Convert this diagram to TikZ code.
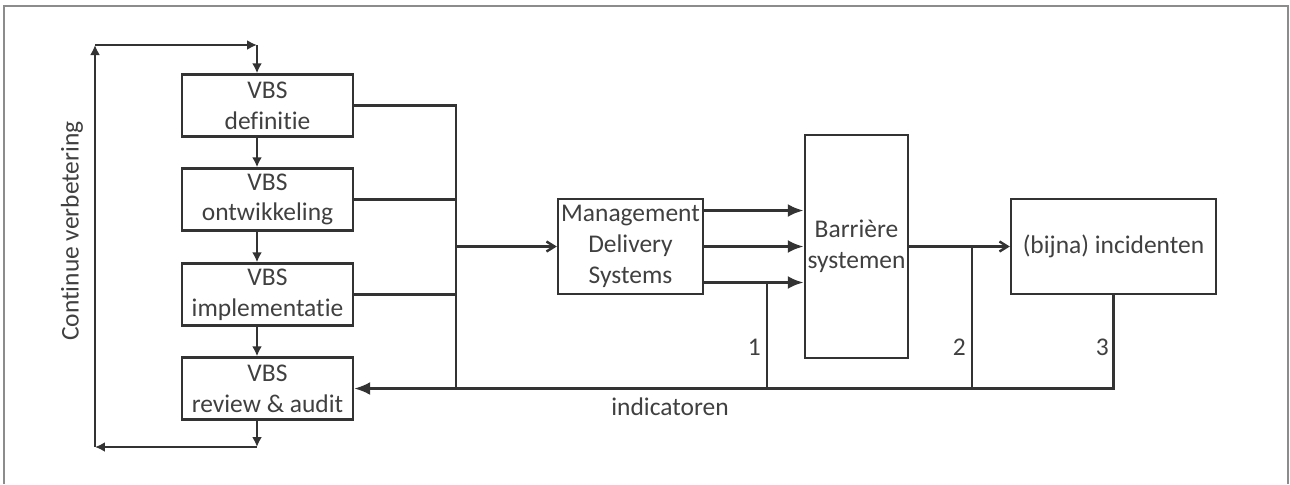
\documentclass[tikz,border=0pt]{standalone}
\usepackage{fontspec}
\setmainfont[Ligatures=NoCommon]{Carlito}
\usetikzlibrary{arrows.meta}
\begin{document}
\begin{tikzpicture}[x=0.02cm,y=-0.02cm,
  every node/.style={text=black!75,font=\fontsize{14.5}{17.5}\selectfont},
  box/.style={draw=black!80,line width=1.4pt,align=center,inner sep=0pt},
  vbs/.style={box,minimum width=3.42cm,minimum height=1.24cm},
  line/.style={draw=black!80,line width=1.4pt},
  tip/.style={line,-{Latex[length=0.2cm,width=0.2cm]}},
  bigtip/.style={line,-{Latex[length=0.32cm,width=0.26cm]}},
  thintip/.style={line,-{Straight Barb[length=0.16cm,width=0.2cm]}},
  nr/.style={anchor=east,inner sep=0.12cm}]
\useasboundingbox (0,0) rectangle (1290,484);
\draw[black!45,line width=0.6pt] (4,484) -- (4,6) -- (1288,6) -- (1288,484);

\node[vbs] (vbsdef) at (267.5,105.5) {VBS\\definitie};
\node[vbs] (vbsont) at (267.5,199.5) {VBS\\ontwikkeling};
\node[vbs] (vbsimp) at (267.5,294.5) {VBS\\implementatie};
\node[vbs] (vbsrev) at (267.5,388.5) {VBS\\review \& audit};
\node[box,minimum width=2.9cm,minimum height=1.9cm] (mds) at (630.5,246.5) {Management\\Delivery\\Systems};
\node[box,minimum width=2.06cm,minimum height=4.46cm] (barr) at (856.5,246.5) {Barrière\\systemen};
\node[box,minimum width=4.1cm,minimum height=1.9cm] (incid) at (1113.5,246.5) {(bijna) incidenten};
\node[rotate=90] (cv) at (72,231) {Continue verbetering};
\node (ind) at (670,407) {indicatoren};

\coordinate (tl) at (95,45);
\coordinate (tr) at (257,45);
\coordinate (bl) at (95,447);
\coordinate (br) at (257,447);
\coordinate (bus) at (456,246.5);
\coordinate (tap1) at (767,0);
\coordinate (tap2) at (972,0);

\draw[tip] (tr) -- (tr |- vbsdef.north);
\draw[tip] (tr |- vbsdef.south) -- (tr |- vbsont.north);
\draw[tip] (tr |- vbsont.south) -- (tr |- vbsimp.north);
\draw[tip] (tr |- vbsimp.south) -- (tr |- vbsrev.north);
\draw[tip] (br |- vbsrev.south) -- (br);
\draw[tip] (br) -- (bl);
\draw[tip] (bl) -- (tl);
\draw[tip] (tl) -- (tr);

\draw[line] (vbsdef.east) -| (bus |- vbsrev.east);
\draw[line] (vbsont.east) -- (vbsont.east -| bus);
\draw[line] (vbsimp.east) -- (vbsimp.east -| bus);
\draw[thintip] (bus) -- (mds.west);
\draw[bigtip] (bus |- vbsrev.east) -- (vbsrev.east);
\draw[line] (bus |- vbsrev.east) -- (incid.south |- vbsrev.east) -- (incid.south);

\foreach \dy/\nm in {0.72/hi,0/md,-0.72/lo}{
  \coordinate (\nm) at ([yshift=\dy cm]mds.east);
  \draw[bigtip,line width=2pt] (\nm) -- (\nm -| barr.west);
}
\draw[line] (lo -| tap1) -- (tap1 |- vbsrev.east);
\draw[thintip] (barr.east) -- (incid.west);
\draw[line] (barr.east -| tap2) -- (tap2 |- vbsrev.east);

\node[nr] (n1) at (767,347) {1};
\node[nr] (n2) at (972,347) {2};
\node[nr] (n3) at (1115,347) {3};
\end{tikzpicture}
\end{document}
